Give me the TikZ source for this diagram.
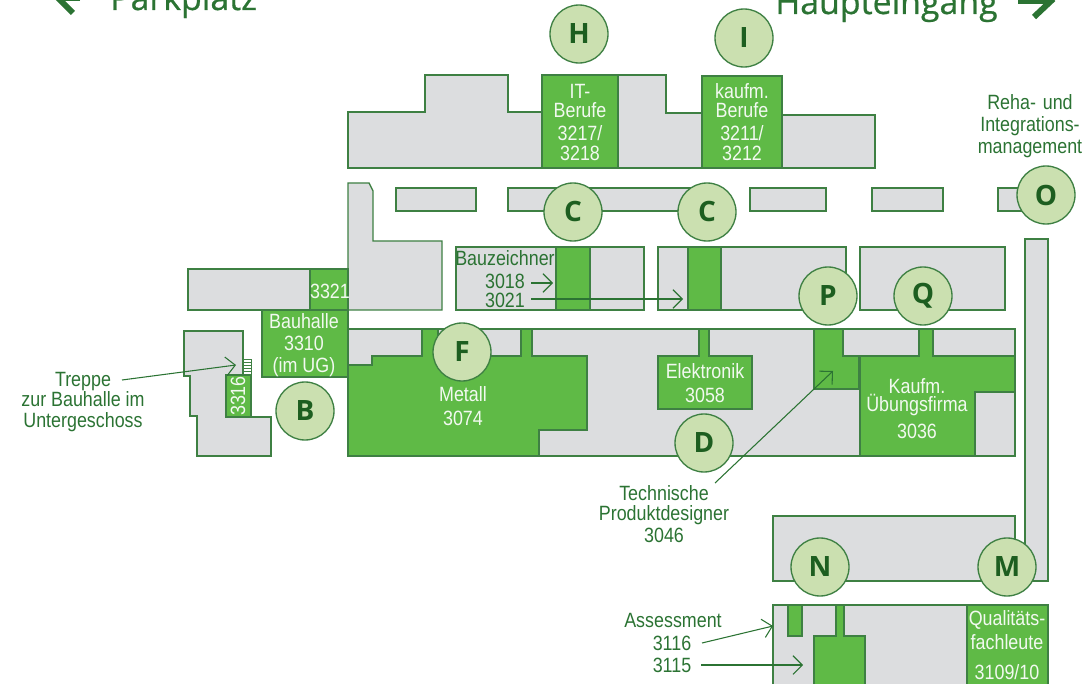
\documentclass[tikz,border=0pt]{standalone}
\usepackage{fontspec}
\setmainfont[FakeStretch=0.865]{Liberation Sans}
\newfontfamily\signfont[FakeBold=0.6]{Open Sans}
\newfontfamily\badgefont{Open Sans}
\usetikzlibrary{arrows.meta}
\definecolor{wallgreen}{HTML}{3E8043}
\definecolor{roomgray}{HTML}{DCDDDF}
\definecolor{roomgreen}{HTML}{5FBA46}
\definecolor{badgefill}{HTML}{CBE0B0}
\definecolor{badgeink}{HTML}{1D5E20}
\definecolor{inkgreen}{HTML}{2B7333}
\tikzset{
	hall/.style={draw=wallgreen, line width=1pt, fill=roomgray},
	room/.style={draw=wallgreen, line width=1pt, fill=roomgreen},
	badge/.style={circle, draw=wallgreen, line width=1pt, fill=badgefill, minimum size=43.5pt, inner sep=0pt, text=badgeink, font=\badgefont\bfseries\fontsize{21}{21}\selectfont},
	inlabel/.style={text=white!92!roomgreen, font=\fontsize{15.5}{16.5}\selectfont, align=center, inner sep=0pt},
	outlabel/.style={text=inkgreen, font=\fontsize{15.5}{15.5}\selectfont, align=center, inner sep=0pt},
	signlabel/.style={text=inkgreen, font=\signfont\fontsize{25.4}{25.4}\selectfont, inner sep=0pt, anchor=base west},
	signarrow/.style={draw=inkgreen, line width=4.5pt},
	pointer/.style={draw=inkgreen, line width=0.8pt, -{Straight Barb[length=7pt,width=14pt]}}
}
\begin{document}
\begin{tikzpicture}[x=0.75pt,y=-0.75pt]
	\useasboundingbox (0,0) rectangle (1082,684);
	\clip (0,0) rectangle (1082,684);
	%%%%% top wing %%%%%
	\draw[hall] (348,112) -- (425,112) -- (425,75) -- (508,75) -- (508,112) -- (542,112) -- (542,75) -- (666,75) -- (666,113) -- (702,113) -- (702,115) -- (875,115) -- (875,168) -- (348,168) -- cycle;
	\draw[room] (542,75) rectangle (618,168);
	\draw[room] (702,76) rectangle (782,168);
	%%%%% narrow strip %%%%%
	\draw[hall] (396,188) rectangle (476,211);
	\draw[hall] (508,188) rectangle (700,211);
	\draw[hall] (750,188) rectangle (826,211);
	\draw[hall] (872,188) rectangle (943,211);
	\draw[hall] (998,188) rectangle (1040,211);
	%%%%% middle row %%%%%
	\draw[hall] (348,183) -- (369,183) -- (373,191) -- (373,241) -- (442,241) -- (442,310) -- (348,310) -- cycle;
	\draw[hall] (188,269) rectangle (310,310);
	\draw[room] (310,269) rectangle (348,310);
	\draw[room] (262,310) rectangle (348,377);
	\draw[hall] (456,247) rectangle (644,310);
	\draw[room] (556,247) rectangle (590,310);
	\draw[hall] (658,247) rectangle (846,310);
	\draw[room] (688,247) rectangle (721,310);
	\draw[hall] (860,247) rectangle (1005,310);
	%%%%% left annex %%%%%
	\draw[hall] (184,331) -- (243,331) -- (243,375) -- (226,375) -- (226,417) -- (271,417) -- (271,456) -- (197,456) -- (197,416) -- (190,416) -- (190,376) -- (184,376) -- cycle;
	\draw[room] (226,375) rectangle (251,417);
	\draw[draw=wallgreen, line width=0.5pt] (243,359) -- (251,359) -- (251,375);
	\foreach \y in {362,365,368,371}
		\draw[draw=wallgreen, line width=0.5pt] (243,\y) -- (251,\y);
	%%%%% main hall %%%%%
	\draw[hall] (348,329) rectangle (1015,456);
	\draw[room] (348,365) -- (372,365) -- (372,356) -- (422,356) -- (422,329) -- (438,329) -- (438,356) -- (521,356) -- (521,329) -- (532,329) -- (532,356) -- (587,356) -- (587,430) -- (539,430) -- (539,456) -- (348,456) -- cycle;
	\draw[room] (658,356) -- (699,356) -- (699,329) -- (709,329) -- (709,356) -- (752,356) -- (752,409) -- (658,409) -- cycle;
	\draw[room] (814,329) -- (843,329) -- (843,356) -- (859,356) -- (859,389) -- (814,389) -- cycle;
	\draw[room] (860,356) -- (919,356) -- (919,329) -- (933,329) -- (933,356) -- (1015,356) -- (1015,392) -- (975,392) -- (975,456) -- (860,456) -- cycle;
	%%%%% right wing %%%%%
	\draw[hall] (773,516) -- (1015,516) -- (1015,560) -- (1025,560) -- (1025,239) -- (1048,239) -- (1048,581) -- (773,581) -- cycle;
	\draw[hall] (773,605) rectangle (1048,690);
	\draw[room] (967,605) rectangle (1048,690);
	\draw[room] (788,605) rectangle (802,636);
	\draw[room] (836,605) -- (844,605) -- (844,636) -- (865,636) -- (865,690) -- (814,690) -- (814,636) -- (836,636) -- cycle;
	%%%%% labels in rooms %%%%%
	\node[inlabel] (itrooms) at (580,122) {IT-\\[-2.25pt]Berufe\\[0.75pt]3217/\\[-1.5pt]3218};
	\node[inlabel] (kaufmrooms) at (742,122) {kaufm.\\[-2.25pt]Berufe\\[0.75pt]3211/\\[-1.5pt]3212};
	\node[inlabel] (room3321) at (330,291) {3321};
	\node[inlabel] (bauhalle) at (304,345) {Bauhalle\\3310\\(im UG)};
	\node[inlabel, rotate=90] (room3316) at (238,396) {3316};
	\node[inlabel] (metall) at (463,406) {Metall\\[1pt]3074};
	\node[inlabel] (elektronik) at (705,383) {Elektronik\\[1pt]3058};
	\node[inlabel] (kaufm) at (917,397) {Kaufm.\\[-3pt]Übungsfirma};
	\node[inlabel] (room3036) at (917,431) {3036};
	\node[inlabel] (quali) at (1007,630) {Qualitäts-\\[2pt]fachleute};
	\node[inlabel] (room3109) at (1007,672) {3109/10};
	%%%%% labels outside %%%%%
	\node[outlabel] (treppe) at (83,402) {Treppe\\zur Bauhalle im\\Untergeschoss};
	\node[outlabel] (bauzeichner) at (505,258) {Bauzeichner};
	\node[outlabel] (room3018) at (505,281) {3018};
	\node[outlabel] (room3021) at (505,300) {3021};
	\node[outlabel] (designer) at (664,514) {Technische\\Produktdesigner\\[1pt]3046};
	\node[outlabel] (assessment) at (673,620) {Assessment};
	\node[outlabel] (room3116) at (672,643) {3116};
	\node[outlabel] (room3115) at (672,665) {3115};
	\node[outlabel, text width=130pt] (reha) at (1030,126) {Reha- und\\[1pt]Integrations-\\[1pt]management};
	%%%%% pointers %%%%%
	\coordinate (stairs) at (236,365);
	\coordinate (treppestart) at (122,380);
	\coordinate (bay3018) at (553,283);
	\coordinate (start3018) at (531,283);
	\coordinate (bay3021) at (683,299);
	\coordinate (start3021) at (531,299);
	\coordinate (bayP) at (833,371);
	\coordinate (startP) at (715,483);
	\coordinate (bay3116) at (773,626);
	\coordinate (start3116) at (702,643);
	\coordinate (bay3115) at (803,665);
	\coordinate (start3115) at (701,665);
	\draw[pointer] (treppestart) -- (stairs);
	\draw[pointer] (start3018) -- (bay3018);
	\draw[pointer] (start3021) -- (bay3021);
	\draw[pointer] (startP) -- (bayP);
	\draw[pointer] (start3116) -- (bay3116);
	\draw[pointer] (start3115) -- (bay3115);
	%%%%% badges %%%%%
	\node[badge] (bB) at (305,411) {B};
	\node[badge] (bF) at (462,352) {F};
	\node[badge] (bCa) at (573,212) {C};
	\node[badge] (bCb) at (707,212) {C};
	\node[badge] (bD) at (704,443) {D};
	\node[badge] (bP) at (828,296) {P};
	\node[badge] (bQ) at (923,296) {Q};
	\node[badge] (bO) at (1046,195) {O};
	\node[badge] (bN) at (820,567) {N};
	\node[badge] (bM) at (1007,567) {M};
	\node[badge] (bH) at (579,34) {H};
	\node[badge] (bI) at (744,38) {I};
	%%%%% signs %%%%%
	\node[signlabel] (parkplatz) at (110,10) {Parkplatz};
	\node[signlabel] (eingang) at (775,14) {Haupteingang};
	\coordinate (parktip) at (58,-2);
	\coordinate (parktail) at (80,-2);
	\coordinate (gatetip) at (1051,1);
	\coordinate (gatetail) at (1018,1);
	\draw[signarrow] (parktail) -- (parktip);
	\draw[signarrow] (parktip) -- (73,13);
	\draw[signarrow] (gatetail) -- (gatetip);
	\draw[signarrow] (1034,-15) -- (gatetip) -- (1034,17);
\end{tikzpicture}
\end{document}
